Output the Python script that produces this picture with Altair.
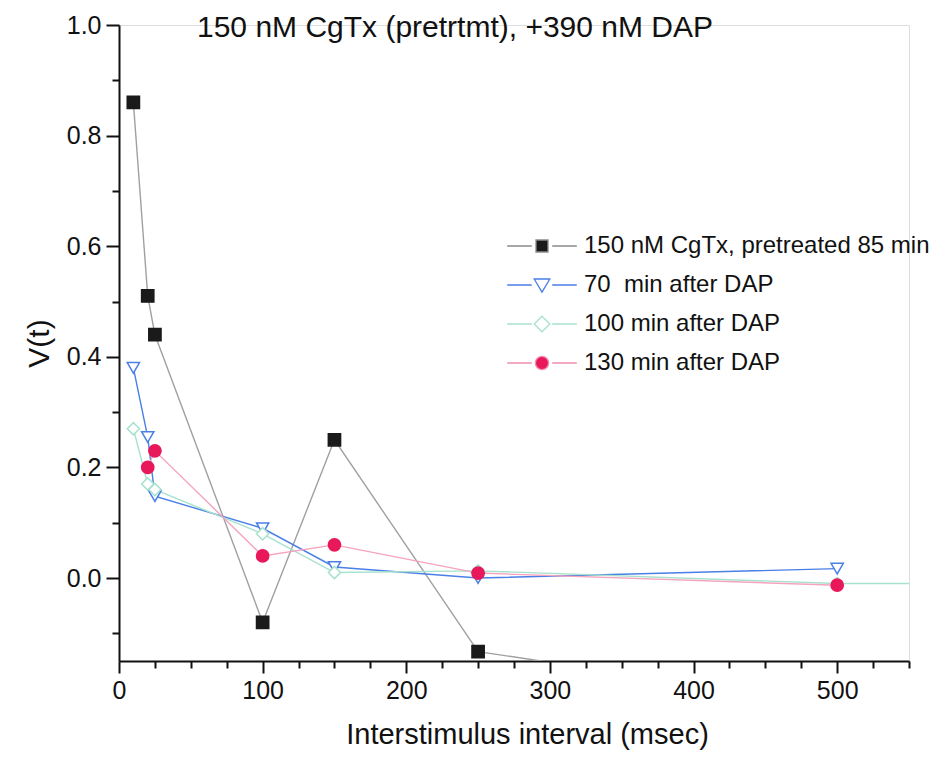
import altair as alt
import pandas as pd

FONT = "Liberation Sans"

series_names = [
    "150 nM CgTx, pretreated 85 min",
    "\u00a070\u00a0 min after DAP",
    "100 min after DAP",
    "130 min after DAP",
]

x_cgtx = [10, 20, 25, 100, 150, 250, 500]
y_cgtx = [0.86, 0.51, 0.44, -0.08, 0.25, -0.133, -0.23]

x_70 = [10, 20, 25, 100, 150, 250, 500]
y_70 = [0.38, 0.255, 0.148, 0.09, 0.02, 0.0, 0.017]

x_100 = [10, 20, 25, 100, 150, 250, 500, 1000]
y_100 = [0.27, 0.17, 0.16, 0.08, 0.01, 0.013, -0.01, -0.01]

x_130 = [20, 25, 100, 150, 250, 500]
y_130 = [0.20, 0.23, 0.04, 0.06, 0.009, -0.013]

x_major_ticks = [0, 100, 200, 300, 400, 500]
x_minor_ticks = [25, 50, 75, 125, 150, 175, 225, 250, 275, 325, 350, 375, 425, 450, 475, 525, 550]
y_major_ticks = [0.0, 0.2, 0.4, 0.6, 0.8, 1.0]
y_minor_ticks = [-0.1, 0.1, 0.3, 0.5, 0.7, 0.9]

line_colors = ["#a0a0a0", "#4a7fe6", "#a6e2cd", "#f5a3bf"]
point_shapes = ["square", "triangle-down", "diamond", "circle"]
point_fills = ["#1a1a1a", "white", "white", "#e8185a"]
point_strokes = ["#1a1a1a", "#4a7fe6", "#a6e2cd", "#e8185a"]

legend_paths = [
    "M-2.9,0H-0.85M0.85,0H2.9M-0.5,-0.5H0.5V0.5H-0.5Z",
    "M-2.9,0H-0.85M0.85,0H2.9M-0.65,-0.5H0.65L0,0.6Z",
    "M-2.9,0H-0.85M0.85,0H2.9M0,-0.65L0.65,0L0,0.65L-0.65,0Z",
    "M-2.9,0H-0.85M0.85,0H2.9M-0.55,0A0.55,0.55,0,1,0,0.55,0A0.55,0.55,0,1,0,-0.55,0Z",
]
legend_fills = ["#1a1a1a", "white", "white", "#e8185a"]
legend_strokes = ["#8a8a8a", "#4a7fe6", "#a6e2cd", "#f08db0"]

rows = []
for name, xs, ys in zip(series_names, [x_cgtx, x_70, x_100, x_130], [y_cgtx, y_70, y_100, y_130]):
    for a, b in zip(xs, ys):
        rows.append({"series": name, "x": a, "y": b})
df = pd.DataFrame(rows)

x_scale = alt.Scale(domain=[0, 550], nice=False, zero=False)
y_scale = alt.Scale(domain=[-0.15, 1.0], nice=False, zero=False)

x_major = alt.Axis(
    orient="bottom", values=x_major_ticks, format="d", grid=False,
    tickSize=12, tickWidth=2, tickColor="#111", domainColor="#111", domainWidth=2,
    labelFontSize=25, labelFont=FONT, labelColor="#111", labelPadding=5, labelFlush=False,
    title="Interstimulus interval (msec)", titleFontSize=29, titleFont=FONT,
    titleFontWeight="normal", titleColor="#111", titlePadding=17, titleX=408,
)
y_major = alt.Axis(
    orient="left", values=y_major_ticks, format=".1f", grid=False,
    tickSize=13, tickWidth=2, tickColor="#111", domainColor="#111", domainWidth=2,
    labelFontSize=25, labelFont=FONT, labelColor="#111", labelPadding=5, labelFlush=False,
    title="V(t)", titleFontSize=30, titleFont=FONT, titleFontWeight="normal",
    titleColor="#111", titlePadding=12,
)
x_minor = alt.Axis(
    orient="bottom", values=x_minor_ticks, grid=False, labels=False, domain=False,
    tickSize=7, tickWidth=2, tickColor="#111", title=None,
)
y_minor = alt.Axis(
    orient="left", values=y_minor_ticks, grid=False, labels=False, domain=False,
    tickSize=7, tickWidth=2, tickColor="#111", title=None,
)

lines = alt.Chart(df).mark_line(strokeWidth=1.4, clip=True).encode(
    x=alt.X("x:Q", scale=x_scale, axis=x_major),
    y=alt.Y("y:Q", scale=y_scale, axis=y_major),
    stroke=alt.Stroke("series:N", scale=alt.Scale(domain=series_names, range=line_colors), legend=None),
    order="x:Q",
)

points = alt.Chart(df).mark_point(filled=True, strokeWidth=1.5, size=150, opacity=1, clip=True).encode(
    x=alt.X("x:Q", scale=x_scale, axis=None),
    y=alt.Y("y:Q", scale=y_scale, axis=None),
    shape=alt.Shape("series:N", scale=alt.Scale(domain=series_names, range=point_shapes), legend=None),
    fill=alt.Fill("series:N", scale=alt.Scale(domain=series_names, range=point_fills), legend=None),
    stroke=alt.Stroke("series:N", scale=alt.Scale(domain=series_names, range=point_strokes), legend=None),
)

leg = alt.Legend(
    title=None, orient="none", legendX=410, legendY=208, padding=0,
    labelFontSize=24, labelFont=FONT, labelColor="#111", labelLimit=600,
    symbolSize=576, symbolStrokeWidth=1.3, labelOffset=29, rowPadding=14,
)

legend_layer = alt.Chart(df).transform_filter("false").mark_point(
    filled=True, strokeWidth=1.3, size=576, opacity=1
).encode(
    x=alt.X("x:Q", scale=x_scale, axis=x_minor),
    y=alt.Y("y:Q", scale=y_scale, axis=y_minor),
    shape=alt.Shape("series:N", scale=alt.Scale(domain=series_names, range=legend_paths), legend=leg),
    fill=alt.Fill("series:N", scale=alt.Scale(domain=series_names, range=legend_fills), legend=leg),
    stroke=alt.Stroke("series:N", scale=alt.Scale(domain=series_names, range=legend_strokes), legend=leg),
)

chart = alt.layer(lines, points, legend_layer).resolve_scale(
    shape="independent", fill="independent", stroke="independent"
).resolve_axis(
    x="independent", y="independent"
).properties(
    width=790, height=636,
    autosize=alt.AutoSizeParams(type="none"),
    padding={"left": 111, "top": 17, "right": 35, "bottom": 90},
    title=alt.TitleParams(
        text="150 nM CgTx (pretrtmt), +390 nM DAP", fontSize=30, font=FONT,
        fontWeight="normal", color="#111", anchor="middle", dx=-59, offset=-30,
    ),
).configure_view(stroke=None).configure(background="white")

chart.save("out.html", embed_options={"renderer": "svg", "actions": False})
